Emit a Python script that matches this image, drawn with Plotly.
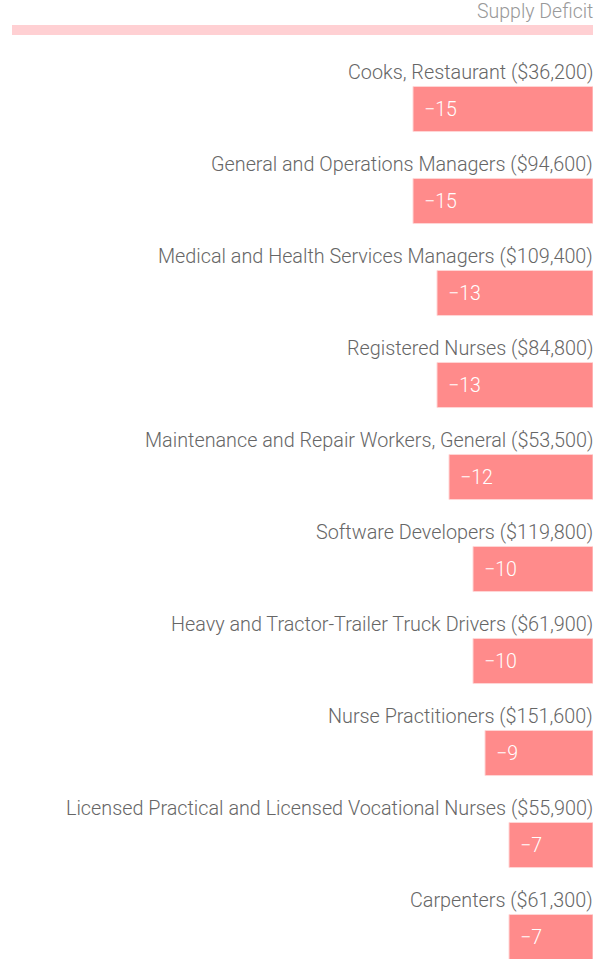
import plotly.graph_objects as go

# データ
occupations = [
    "Cooks, Restaurant",
    "General and Operations Managers",
    "Medical and Health Services Managers",
    "Registered Nurses",
    "Maintenance and Repair Workers, General",
    "Software Developers",
    "Heavy and Tractor-Trailer Truck Drivers",
    "Nurse Practitioners",
    "Licensed Practical and Licensed Vocational Nurses",
    "Carpenters",
]
wages = ["$36,200", "$94,600", "$109,400", "$84,800", "$53,500",
         "$119,800", "$61,900", "$151,600", "$55,900", "$61,300"]
deficit = [-15, -15, -13, -13, -12, -10, -10, -9, -7, -7]

W, H = 597, 959
M_L, M_R, M_T, M_B = 12, 4, 63, 0
PX_PER_UNIT = 12
SLOT = 92

plot_w = W - M_L - M_R
plot_h = H - M_T - M_B

fig = go.Figure(
    go.Bar(
        x=deficit,
        y=occupations,
        orientation="h",
        width=0.49,
        marker=dict(color="#ff8b8b", line=dict(color="#ffd6d6", width=1)),
        hoverinfo="skip",
    )
)

annotations = []
for occ, wage, val in zip(occupations, wages, deficit):
    # 職業名ラベル（バーの上）
    annotations.append(dict(
        x=1, xref="paper", xanchor="right", xshift=2,
        y=occ, yref="y", yanchor="middle", yshift=37,
        text=f"{occ} ({wage})", showarrow=False,
        font=dict(family="Roboto", size=19.8, color="#666666", weight=300),
    ))
    # 値ラベル（バーの中）
    annotations.append(dict(
        x=val, xref="x", xanchor="left", xshift=9,
        y=occ, yref="y", yanchor="middle",
        text=f"\u2212{abs(val)}", showarrow=False,
        font=dict(family="Roboto", size=19.5, color="#ffffff", weight=300),
    ))

# ヘッダー
annotations.append(dict(
    x=1, xref="paper", xanchor="right", xshift=2,
    y=1 + (M_T - 11) / plot_h, yref="paper", yanchor="middle",
    text="Supply Deficit", showarrow=False,
    font=dict(family="Roboto", size=19.5, color="#999999", weight=300),
))

shapes = [dict(
    type="rect", xref="paper", yref="paper",
    x0=0, x1=1,
    y0=1 + (M_T - 35) / plot_h, y1=1 + (M_T - 25) / plot_h,
    fillcolor="#ffd0d3", line_width=0, layer="below",
)]

fig.update_layout(
    width=W, height=H,
    margin=dict(l=M_L, r=M_R, t=M_T, b=M_B, pad=0),
    plot_bgcolor="white", paper_bgcolor="white",
    showlegend=False,
    annotations=annotations,
    shapes=shapes,
    xaxis=dict(range=[-plot_w / PX_PER_UNIT, 0], visible=False, fixedrange=True),
    yaxis=dict(
        range=[-0.5 + plot_h / SLOT, -0.5],
        visible=False, fixedrange=True,
        categoryorder="array", categoryarray=occupations,
    ),
)

fig.write_html(
    "out.html",
    config={"displayModeBar": False},
    post_script="document.body.style.margin='0';document.body.style.overflow='hidden';",
)
